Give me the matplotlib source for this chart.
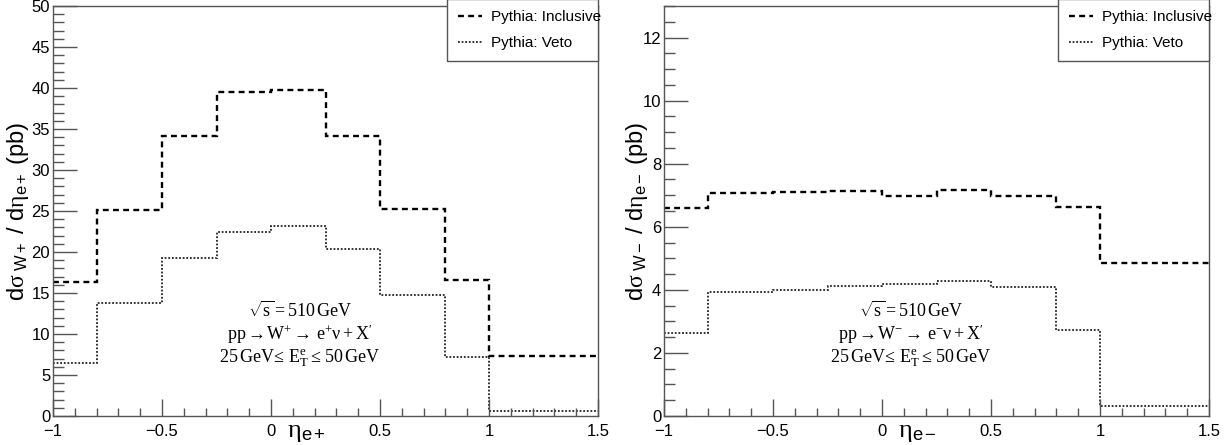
import numpy as np
import matplotlib
matplotlib.use("Agg")
import matplotlib.pyplot as plt
from matplotlib.ticker import MultipleLocator

plt.rcParams['font.family'] = ['Liberation Sans', 'DejaVu Sans']
plt.rcParams['mathtext.fontset'] = 'custom'
plt.rcParams['mathtext.rm'] = 'Liberation Serif'
plt.rcParams['mathtext.it'] = 'Liberation Serif:italic'
plt.rcParams['mathtext.sf'] = 'Liberation Sans'
plt.rcParams['axes.unicode_minus'] = True

# eta bin edges (same for both panels)
edges = [-1.0, -0.8, -0.5, -0.25, 0.0, 0.25, 0.5, 0.8, 1.0, 1.5]

# W+ -> e+ nu
wp_inclusive = [16.3, 25.1, 34.1, 39.5, 39.7, 34.2, 25.3, 16.6, 7.3]
wp_veto = [6.5, 13.8, 19.3, 22.5, 23.2, 20.4, 14.8, 7.2, 0.6]

# W- -> e- nu
wm_inclusive = [6.6, 7.08, 7.11, 7.12, 6.99, 7.17, 6.98, 6.63, 4.86]
wm_veto = [2.62, 3.92, 3.98, 4.12, 4.19, 4.29, 4.10, 2.72, 0.31]

panels = [
    dict(inc=wp_inclusive, veto=wp_veto, ymax=50, major=5, minor=1,
         ylabel=r'd$\mathrm{\sigma}_{\ \mathsf{W+}}$ / d$\mathrm{\eta}_{\mathsf{e+}}$ (pb)',
         xlabel=r'$\mathrm{\eta}_{\mathsf{e+}}$', ylabx=-0.04,
         proc=r'$\mathrm{pp}\rightarrow\!\mathrm{W}^{+}\rightarrow\,\mathrm{e}^{+}\mathrm{\nu} + \mathrm{X}^{\prime}$'),
    dict(inc=wm_inclusive, veto=wm_veto, ymax=13, major=2, minor=0.5,
         ylabel=r'd$\mathrm{\sigma}_{\ \mathsf{W-}}$ / d$\mathrm{\eta}_{\mathsf{e-}}$ (pb)',
         xlabel=r'$\mathrm{\eta}_{\mathsf{e-}}$', ylabx=-0.026,
         proc=r'$\mathrm{pp}\rightarrow\!\mathrm{W}^{-}\rightarrow\,\mathrm{e}^{-}\mathrm{\nu} + \mathrm{X}^{\prime}$'),
]

fig = plt.figure(figsize=(12.3, 4.45), dpi=100)
lefts = [53 / 1230, 664 / 1230]
frame_col = '#555555'

for left, p in zip(lefts, panels):
    ax = fig.add_axes([left, 29 / 445, 545 / 1230, 410 / 445])
    ax.stairs(p['inc'], edges, baseline=None, color='black', lw=1.7,
              linestyle=(0, (2.5, 1.8)), label='Pythia: Inclusive')
    ax.stairs(p['veto'], edges, baseline=None, color='#222222', lw=1.3,
              linestyle=(0, (1, 1)), label='Pythia: Veto')

    ax.set_xlim(-1, 1.5)
    ax.set_ylim(0, p['ymax'])
    ax.xaxis.set_major_locator(MultipleLocator(0.5))
    ax.xaxis.set_minor_locator(MultipleLocator(0.1))
    ax.yaxis.set_major_locator(MultipleLocator(p['major']))
    ax.yaxis.set_minor_locator(MultipleLocator(p['minor']))
    ax.xaxis.set_major_formatter(plt.FuncFormatter(lambda v, _: f'{v:g}'.replace('-', '\u2212')))
    ax.tick_params(which='both', direction='in', top=False, right=False,
                   color=frame_col, width=1, labelsize=12)
    ax.tick_params(axis='y', which='major', length=17, pad=2)
    ax.tick_params(axis='y', which='minor', length=8)
    ax.tick_params(axis='x', which='major', length=12, pad=6)
    ax.tick_params(axis='x', which='minor', length=6)
    for s in ax.spines.values():
        s.set_color(frame_col)
        s.set_linewidth(1)

    ax.set_ylabel(p['ylabel'], fontsize=17)
    ax.yaxis.set_label_coords(p['ylabx'], 0.5)
    ax.set_xlabel(p['xlabel'], fontsize=19, va='top')
    ax.xaxis.set_label_coords(0.465, -0.01)

    # kinematics text block
    kin = [r'$\sqrt{\mathrm{s}} = 510\,\mathrm{GeV}$', p['proc'],
           r'$25\,\mathrm{GeV}\!\leq\,\mathrm{E}_{\mathrm{T}}^{\mathrm{e}}\leq\,50\,\mathrm{GeV}$']
    for i, line in enumerate(kin):
        ax.text(0.453, 0.257 - i * 0.058, line, transform=ax.transAxes,
                ha='center', va='center', fontsize=13)

    leg = ax.legend(loc='upper left', bbox_to_anchor=(0.723, 1.016, 0.277, 0),
                    mode='expand', fontsize=11, frameon=True, fancybox=False,
                    framealpha=1, edgecolor=frame_col, handlelength=1.6,
                    handletextpad=0.6, labelspacing=0.8, borderpad=0.7,
                    borderaxespad=0)
    leg.get_frame().set_linewidth(1)
    leg.set_clip_on(False)

fig.savefig('out.png', dpi=100)
